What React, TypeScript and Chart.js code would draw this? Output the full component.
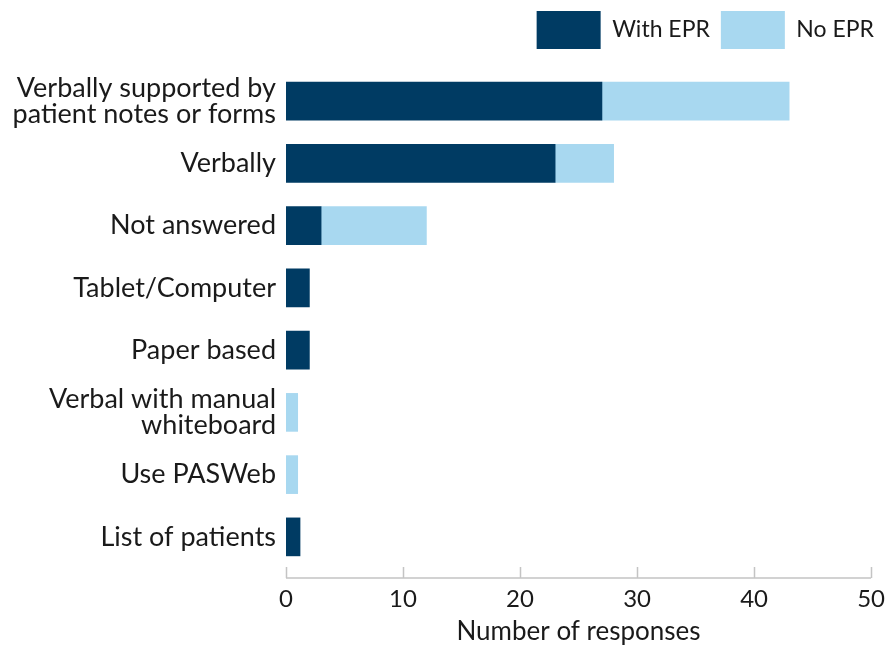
import React, { useEffect, useRef } from 'react';
import { Chart, registerables } from 'chart.js';

Chart.register(...registerables);

const categories: (string | string[])[] = [
  ['Verbally supported by', 'patient notes or forms'],
  'Verbally',
  'Not answered',
  'Tablet/Computer',
  'Paper based',
  ['Verbal with manual', 'whiteboard'],
  'Use PASWeb',
  'List of patients',
];
const withEPR = [27, 23, 3, 2, 2, 0, 0, 1.2];
const noEPR = [16, 5, 9, 0, 0, 1, 1, 0];
const xTicks = [0, 10, 20, 30, 40, 50];

const DARK = '#003B63';
const LIGHT = '#A8D8F0';
const TEXT = '#1a1a1a';
const FONT = 'Lato, "Open Sans", sans-serif';

const axisPlugin = {
  id: 'bottomAxis',
  beforeInit(chart: any) {
    const legend = chart.legend;
    if (legend) {
      const fit = legend.fit;
      legend.fit = function () {
        fit.call(legend);
        legend.height += 11;
      };
    }
  },
  afterDraw(chart: any) {
    const x = chart.scales.x;
    const ctx = chart.ctx;
    const y0 = chart.chartArea.bottom + 10;
    ctx.save();
    ctx.strokeStyle = '#c4c4c4';
    ctx.lineWidth = 1.5;
    ctx.beginPath();
    ctx.moveTo(x.left, y0);
    ctx.lineTo(x.right, y0);
    xTicks.forEach((v) => {
      const px = Math.round(x.getPixelForValue(v)) + 0.5;
      ctx.moveTo(px, y0);
      ctx.lineTo(px, y0 - 11);
    });
    ctx.stroke();
    ctx.restore();
  },
};

export default function App() {
  const ref = useRef<HTMLCanvasElement | null>(null);
  useEffect(() => {
    document.body.style.margin = '0';
    if (!ref.current) return;
    const chart = new Chart(ref.current, {
      type: 'bar',
      data: {
        labels: categories as any,
        datasets: [
          { label: 'With EPR', data: withEPR.map((v) => (v ? v : null)), backgroundColor: DARK, barThickness: 38 },
          { label: 'No EPR', data: noEPR.map((v) => (v ? v : null)), backgroundColor: LIGHT, barThickness: 38 },
        ],
      },
      options: {
        indexAxis: 'y',
        animation: false,
        responsive: true,
        maintainAspectRatio: false,
        layout: { padding: { left: 0, right: 0, top: 0, bottom: 0 } },
        plugins: {
          legend: {
            position: 'top',
            align: 'end',
            labels: {
              boxWidth: 64,
              boxHeight: 38,
              padding: 11,
              color: TEXT,
              font: { family: FONT, size: 23 },
            },
          },
          tooltip: { enabled: false },
        },
        scales: {
          x: {
            stacked: true,
            min: 0,
            max: 50,
            afterFit(scale: any) {
              scale.height = 79;
            },
            ticks: {
              stepSize: 10,
              color: TEXT,
              padding: 0,
              font: { family: FONT, size: 24 },
            },
            grid: { display: false, drawTicks: true, tickLength: 17 },
            border: { display: false },
            title: {
              display: true,
              text: 'Number of responses',
              color: TEXT,
              font: { family: FONT, size: 26 },
              padding: { top: 0, bottom: 0 },
            },
          },
          y: {
            stacked: true,
            afterFit(scale: any) {
              scale.width = 286;
            },
            ticks: {
              color: TEXT,
              padding: 10,
              font: { family: FONT, size: 27, lineHeight: 0.96 },
            },
            grid: { display: false, drawTicks: false },
            border: { display: false },
          },
        },
      },
      plugins: [axisPlugin],
    });
    return () => chart.destroy();
  }, []);
  return (
    <div style={{ width: 885, height: 647, position: 'relative' }}>
      <canvas ref={ref} />
    </div>
  );
}
